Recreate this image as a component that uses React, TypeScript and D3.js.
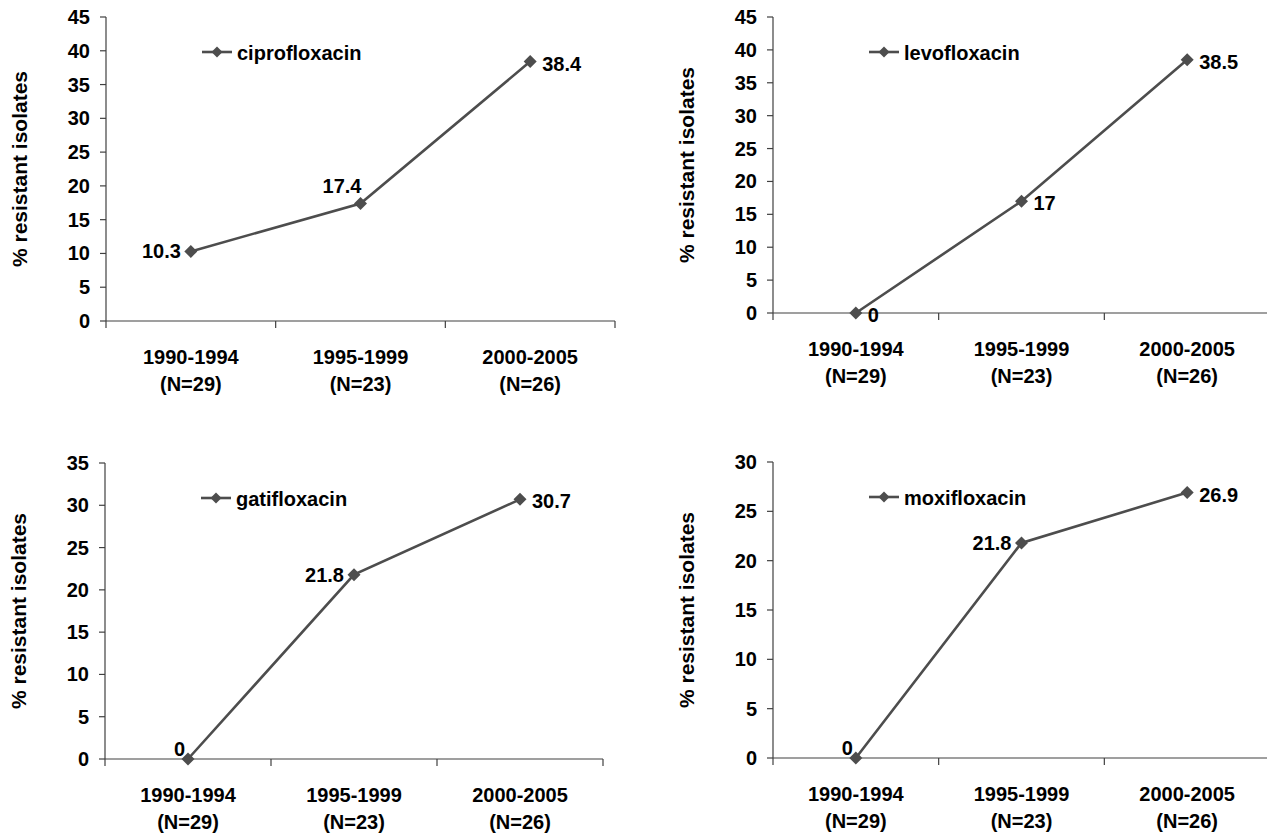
import { scaleBand, scaleLinear, line, range } from "d3";

const CATEGORIES = ["1990-1994", "1995-1999", "2000-2005"];
const SAMPLE_SIZES = ["(N=29)", "(N=23)", "(N=26)"];

const DRUGS = ["ciprofloxacin", "levofloxacin", "gatifloxacin", "moxifloxacin"];
const CIPRO = [10.3, 17.4, 38.4];
const LEVO = [0, 17, 38.5];
const GATI = [0, 21.8, 30.7];
const MOXI = [0, 21.8, 26.9];
const SERIES = [CIPRO, LEVO, GATI, MOXI];
const Y_MAX = [45, 45, 35, 30];
const Y_STEP = 5;

// where each value label sits relative to its marker
type LabelPos = "left" | "right" | "aboveLeft" | "topLeft";
const LABEL_POS: LabelPos[][] = [
  ["left", "aboveLeft", "right"],
  ["right", "right", "right"],
  ["topLeft", "left", "right"],
  ["topLeft", "left", "right"],
];

const BOXES = [
  { left: 106, right: 615, top: 17, bottom: 321 },
  { left: 773, right: 1270, top: 17, bottom: 313 },
  { left: 105, right: 603, top: 463, bottom: 759 },
  { left: 773, right: 1270, top: 462, bottom: 758 },
];

const LINE_COLOR = "#4d4d4d";
const AXIS_COLOR = "#404040";
const FONT = "'Liberation Sans', Arial, sans-serif";

const Diamond = ({ x, y, r }: { x: number; y: number; r: number }) => (
  <path
    d={`M${x},${y - r}L${x + r},${y}L${x},${y + r}L${x - r},${y}Z`}
    fill={LINE_COLOR}
  />
);

const Panel = ({ idx }: { idx: number }) => {
  const box = BOXES[idx];
  const values = SERIES[idx];
  const x = scaleBand<string>()
    .domain(CATEGORIES)
    .range([box.left, box.right])
    .paddingInner(0)
    .paddingOuter(0);
  const y = scaleLinear().domain([0, Y_MAX[idx]]).range([box.bottom, box.top]);
  const cx = (c: string) => (x(c) ?? 0) + x.bandwidth() / 2;
  const ticks = range(0, Y_MAX[idx] + 0.001, Y_STEP);
  const pts = values.map((v, i) => [cx(CATEGORIES[i]), y(v)] as [number, number]);
  const path = line()(pts) ?? "";
  const edges = [...CATEGORIES.map((c) => x(c) ?? 0), box.right];
  const midY = (box.top + box.bottom) / 2;

  return (
    <g fontFamily={FONT} fontWeight="bold" fontSize={20} fill="#000">
      {/* y axis */}
      <line x1={box.left} x2={box.left} y1={box.top} y2={box.bottom} stroke={AXIS_COLOR} strokeWidth={1.2} />
      {ticks.map((t) => (
        <g key={t}>
          <line x1={box.left - 6} x2={box.left} y1={y(t)} y2={y(t)} stroke={AXIS_COLOR} strokeWidth={1.2} />
          <text x={box.left - 16} y={y(t) + 7} textAnchor="end">
            {t}
          </text>
        </g>
      ))}
      <text
        transform={`translate(${box.left - 79},${midY}) rotate(-90)`}
        textAnchor="middle"
        fontSize={21}
      >
        % resistant isolates
      </text>

      {/* x axis */}
      <line x1={box.left} x2={box.right} y1={box.bottom} y2={box.bottom} stroke={AXIS_COLOR} strokeWidth={1.2} />
      {edges.map((e, i) => (
        <line key={i} x1={e} x2={e} y1={box.bottom} y2={box.bottom + 7} stroke={AXIS_COLOR} strokeWidth={1.2} />
      ))}
      {CATEGORIES.map((c, i) => (
        <g key={c}>
          <text x={cx(c)} y={box.bottom + 43} textAnchor="middle">
            {c}
          </text>
          <text x={cx(c)} y={box.bottom + 70} textAnchor="middle">
            {SAMPLE_SIZES[i]}
          </text>
        </g>
      ))}

      {/* series */}
      <path d={path} fill="none" stroke={LINE_COLOR} strokeWidth={2.6} />
      {pts.map(([px, py], i) => (
        <Diamond key={i} x={px} y={py} r={6.5} />
      ))}
      {pts.map(([px, py], i) => {
        const pos = LABEL_POS[idx][i];
        let tx = px + 12;
        let ty = py + 9;
        let anchor = "start";
        if (pos === "left") {
          tx = px - 10;
          ty = py + 7;
          anchor = "end";
        } else if (pos === "aboveLeft") {
          tx = px + 1;
          ty = py - 10;
          anchor = "end";
        } else if (pos === "topLeft") {
          tx = px - 3;
          ty = py - 3;
          anchor = "end";
        }
        return (
          <text key={i} x={tx} y={ty} textAnchor={anchor}>
            {values[i]}
          </text>
        );
      })}

      {/* legend */}
      <line
        x1={box.left + 96}
        x2={box.left + 126}
        y1={box.top + 35}
        y2={box.top + 35}
        stroke={LINE_COLOR}
        strokeWidth={2.6}
      />
      <Diamond x={box.left + 111} y={box.top + 35} r={5.5} />
      <text x={box.left + 131} y={box.top + 43}>
        {DRUGS[idx]}
      </text>
    </g>
  );
};

export default function App() {
  return (
    <svg
      width={1267}
      height={834}
      style={{ position: "absolute", left: 0, top: 0, display: "block", background: "#fff" }}
    >
      <rect width={1267} height={834} fill="#fff" />
      {DRUGS.map((d, i) => (
        <Panel key={d} idx={i} />
      ))}
    </svg>
  );
}
